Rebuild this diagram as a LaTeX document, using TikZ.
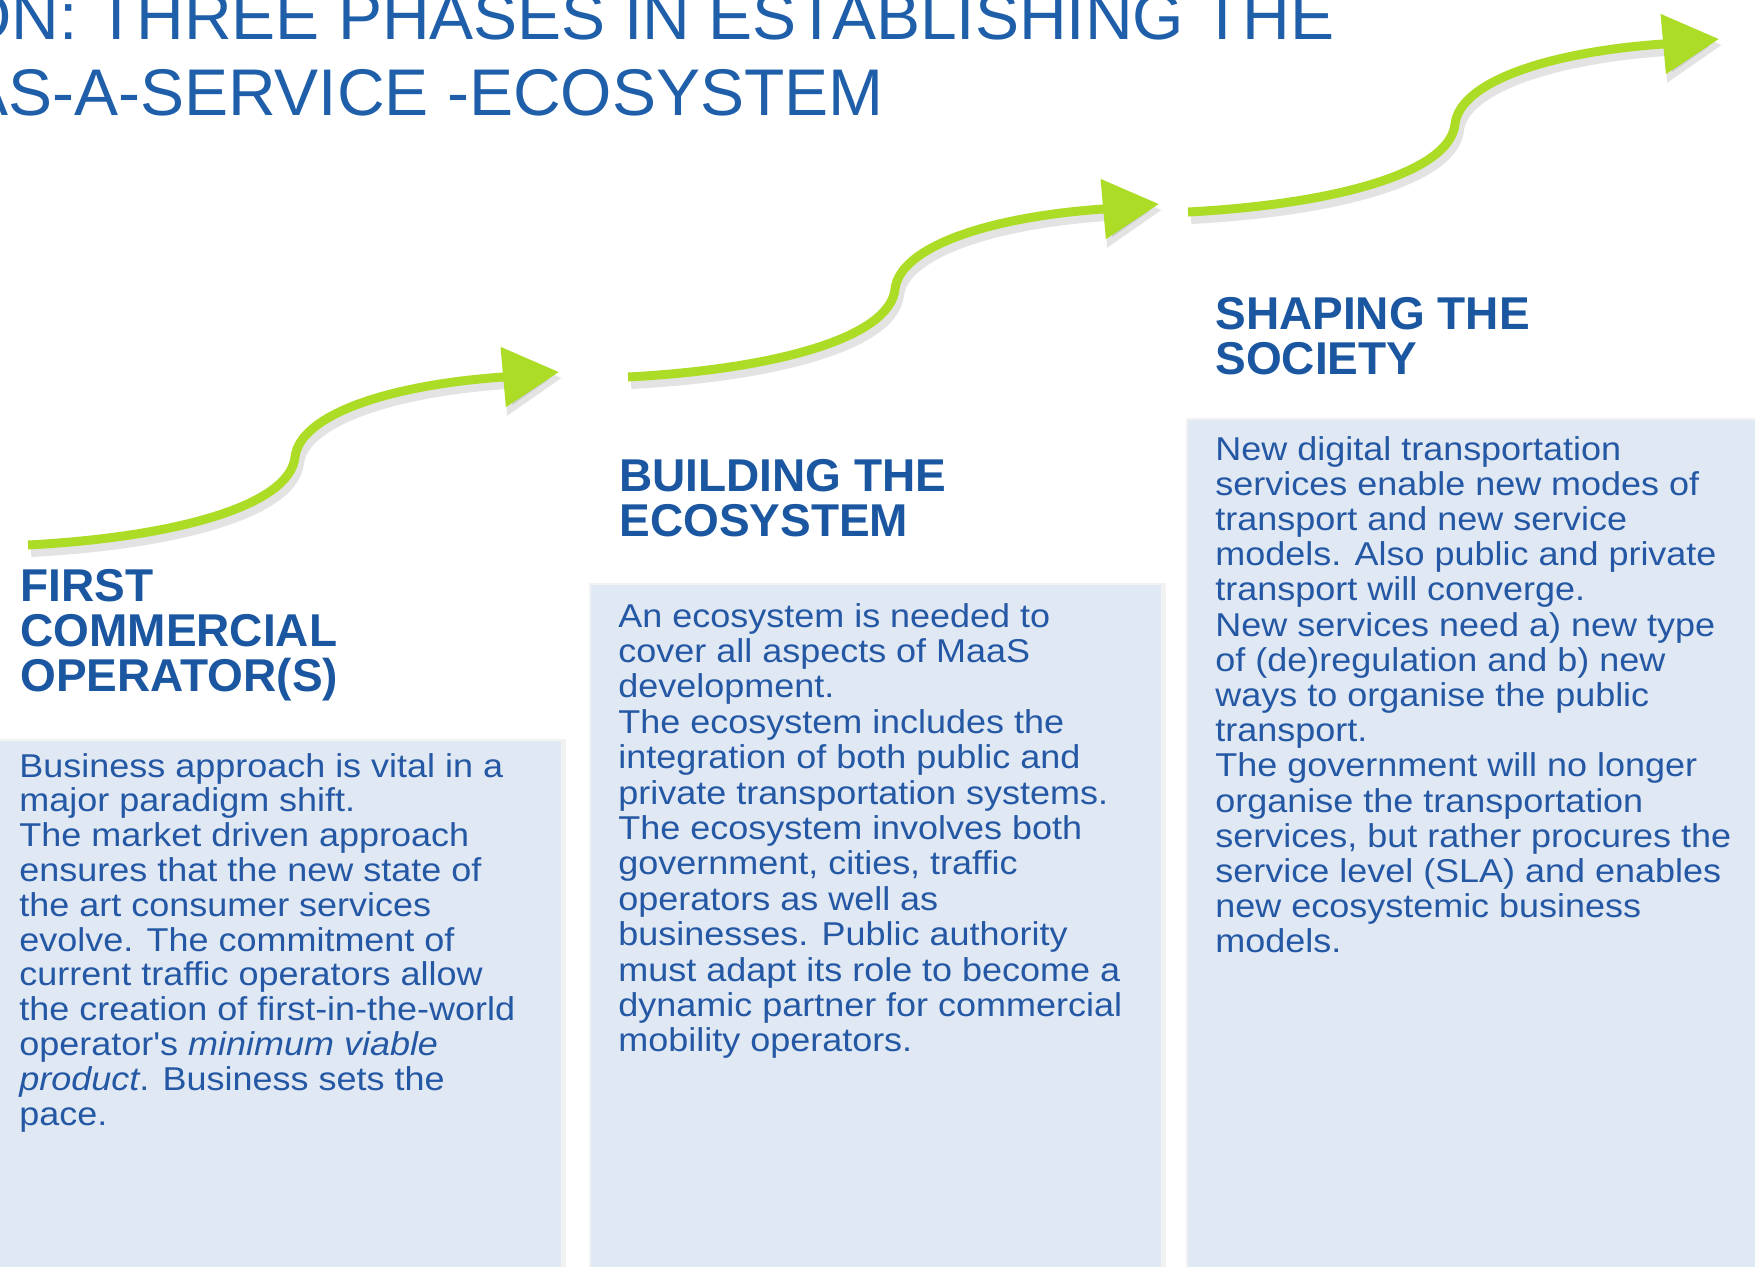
\documentclass[tikz,border=0pt]{standalone}
\usepackage{fontspec}
\setmainfont{Liberation Sans}
\newfontfamily\bodyfont[FakeStretch=1.09]{Liberation Sans}
\usetikzlibrary{arrows.meta}
\definecolor{titleblue}{HTML}{1F5FAA}
\definecolor{headblue}{HTML}{1B57A0}
\definecolor{textblue}{HTML}{2457A4}
\definecolor{boxfill}{HTML}{DFE8F3}
\definecolor{limegreen}{HTML}{ADDC26}
\newcommand\lineblock[2]{\vtop{\baselineskip=#1\relax\lineskiplimit=-100pt\lineskip=0pt\halign{##\hfil\cr#2\crcr}}}
\tikzset{
  titletext/.style={anchor=base west, inner sep=0, text=titleblue, font=\fontsize{33pt}{38pt}\selectfont},
  heading/.style={anchor=base west, inner sep=0, text=headblue, font=\fontsize{23pt}{22.5pt}\selectfont\bfseries},
  bodytext/.style={anchor=base west, inner sep=0, text=textblue, font=\bodyfont\fontsize{16.5pt}{17.5pt}\selectfont},
  phasebox/.style={fill=boxfill},
  boxshadow/.style={fill=black, opacity=0.05},
  arrowline/.style={draw=limegreen, line width=4.5pt, -{Triangle[length=28pt,width=29pt]}},
  arrowshadow/.style={draw=black, opacity=0.11, line width=6pt, -{Triangle[length=29pt,width=31pt]}},
  growarrow/.pic={
    \draw[arrowshadow] (3,6) .. controls (153,-2) and (265,-34) .. (270,-82) .. controls (275,-124) and (363,-154) .. (478,-162) -- (534,-167);
    \draw[arrowline] (0,0) coordinate (-start) .. controls (150,-8) and (262,-40) .. (267,-88) .. controls (272,-130) and (360,-160) .. (475,-168) -- (531,-173) coordinate (-tip);
  }
}
\begin{document}
\begin{tikzpicture}[x=0.5pt,y=-0.5pt]
\useasboundingbox (0,0) rectangle (1755,1266);
\clip (0,0) rectangle (1755,1266);
\fill[white] (0,0) rectangle (1755,1266);

% title
\node[titletext] (title1) at (-40,39) {ON: THREE PHASES IN ESTABLISHING THE};
\node[titletext] (title2) at (-36,115) {AS-A-SERVICE -ECOSYSTEM};

% boxes
\fill[boxshadow] (-5,739) rectangle (566,1275);
\fill[phasebox] (-5,741) rectangle (561,1275);
\fill[boxshadow] (589,583) rectangle (1166,1275);
\fill[phasebox] (591,585) rectangle (1161,1275);
\fill[boxshadow] (1186,418) rectangle (1765,1275);
\fill[phasebox] (1188,420) rectangle (1765,1275);

% arrows
\pic (arr1) at (28,545) {growarrow};
\pic (arr2) at (628,377) {growarrow};
\pic (arr3) at (1188,212) {growarrow};

% headings
\node[heading] (head1) at (20,601) {\lineblock{22.5pt}{FIRST\cr COMMERCIAL\cr OPERATOR(S)}};
\node[heading] (head2) at (619,491) {\lineblock{22.5pt}{BUILDING THE\cr ECOSYSTEM}};
\node[heading] (head3) at (1215,329) {\lineblock{22.5pt}{SHAPING THE\cr SOCIETY}};

% body texts
\node[bodytext] (text1) at (19,777) {\lineblock{17.4pt}{%
Business approach is vital in a\cr
major paradigm shift.\cr
The market driven approach\cr
ensures that the new state of\cr
the art consumer services\cr
evolve. The commitment of\cr
current traffic operators allow\cr
the creation of first-in-the-world\cr
operator's \textit{minimum viable}\cr
\textit{product}. Business sets the\cr
pace.}};

\node[bodytext] (text2) at (618,627) {\lineblock{17.7pt}{%
An ecosystem is needed to\cr
cover all aspects of MaaS\cr
development.\cr
The ecosystem includes the\cr
integration of both public and\cr
private transportation systems.\cr
The ecosystem involves both\cr
government, cities, traffic\cr
operators as well as\cr
businesses. Public authority\cr
must adapt its role to become a\cr
dynamic partner for commercial\cr
mobility operators.}};

\node[bodytext] (text3) at (1215,460) {\lineblock{17.6pt}{%
New digital transportation\cr
services enable new modes of\cr
transport and new service\cr
models. Also public and private\cr
transport will converge.\cr
New services need a) new type\cr
of (de)regulation and b) new\cr
ways to organise the public\cr
transport.\cr
The government will no longer\cr
organise the transportation\cr
services, but rather procures the\cr
service level (SLA) and enables\cr
new ecosystemic business\cr
models.}};
\end{tikzpicture}
\end{document}
